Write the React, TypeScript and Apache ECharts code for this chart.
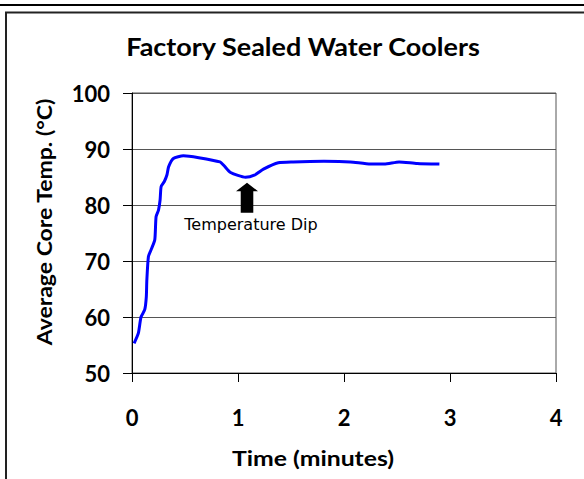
import React, { useEffect, useRef } from "react";
import * as echarts from "echarts";

const TITLE = "Factory Sealed Water Coolers";
const X_NAME = "Time (minutes)";
const Y_NAME = "Average Core Temp. (°C)";

const timeMin = [0.02, 0.06, 0.085, 0.12, 0.135, 0.14, 0.155, 0.18, 0.215, 0.227, 0.25, 0.265, 0.275, 0.305, 0.33, 0.345, 0.39, 0.485, 0.63, 0.83, 0.865, 0.93, 1.07, 1.16, 1.24, 1.38, 1.52, 1.81, 2.06, 2.25, 2.38, 2.52, 2.69, 2.9];
const coreTemp = [55.3, 57.1, 60.0, 61.3, 63.6, 66.6, 70.8, 72.0, 73.8, 77.9, 79.1, 80.9, 83.3, 84.2, 85.4, 86.8, 88.3, 88.8, 88.45, 87.7, 87.1, 85.8, 84.95, 85.4, 86.4, 87.55, 87.7, 87.8, 87.7, 87.3, 87.3, 87.7, 87.4, 87.3];

// annotation: arrow position and label position (data coords)
const arrowAt = [1.085, 81.3];
const dipLabelAt = [1.122, 76.5];
const DIP_TEXT = "Temperature Dip";

export default function App() {
  const ref = useRef<HTMLDivElement>(null);
  useEffect(() => {
    if (!ref.current) return;
    const chart = echarts.init(ref.current, null, { renderer: "svg" });
    const data = timeMin.map((t, i) => [t, coreTemp[i]]);
    chart.setOption({
      animation: false,
      backgroundColor: "#fff",
      grid: {
        left: 132,
        right: 28,
        top: 93,
        bottom: 106,
        show: true,
        borderColor: "#555",
        borderWidth: 1,
        backgroundColor: "transparent",
      },
      xAxis: {
        type: "value",
        min: 0,
        max: 4,
        interval: 1,
        axisLine: { show: true, onZero: false, lineStyle: { color: "#000", width: 1 } },
        axisTick: { show: true, length: 9, lineStyle: { color: "#000" } },
        splitLine: { show: false },
        axisLabel: {
          margin: 33,
          color: "#000",
          fontFamily: "Lato",
          fontWeight: "bold",
          fontSize: 22,
        },
      },
      yAxis: {
        type: "value",
        min: 50,
        max: 100,
        interval: 10,
        axisLine: { show: true, onZero: false, lineStyle: { color: "#000", width: 1 } },
        axisTick: { show: true, length: 9, lineStyle: { color: "#000" } },
        splitLine: { show: true, lineStyle: { color: "#555", width: 1 } },
        axisLabel: {
          margin: 22,
          color: "#000",
          fontFamily: "Lato",
          fontWeight: "bold",
          fontSize: 22,
        },
      },
      graphic: [
        {
          type: "line",
          shape: { x1: 0, y1: 5, x2: 584, y2: 5 },
          style: { stroke: "#000", lineWidth: 2 },
          silent: true,
        },
        {
          type: "rect",
          shape: { x: 6, y: 12.5, width: 620, height: 520 },
          style: { fill: "none", stroke: "#222", lineWidth: 2 },
          silent: true,
        },
        {
          type: "text",
          x: 303,
          y: 46,
          scaleX: 1.08,
          style: {
            text: TITLE,
            fill: "#000",
            font: "bold 25px Lato",
            align: "center",
            verticalAlign: "middle",
          },
        },
        {
          type: "text",
          x: 313,
          y: 458,
          scaleX: 1.18,
          style: {
            text: X_NAME,
            fill: "#000",
            font: "bold 21px Lato",
            align: "center",
            verticalAlign: "middle",
          },
        },
        {
          type: "text",
          x: 45,
          y: 222,
          rotation: Math.PI / 2,
          scaleX: 1.15,
          style: {
            text: Y_NAME,
            fill: "#000",
            font: "bold 20px Lato",
            align: "center",
            verticalAlign: "middle",
          },
        },
      ],
      series: [
        {
          type: "line",
          data,
          showSymbol: false,
          smooth: 0.2,
          lineStyle: { color: "#0000ff", width: 3 },
          itemStyle: { color: "#0000ff" },
          markPoint: {
            silent: true,
            data: [
              {
                coord: arrowAt,
                symbol: "path://M10.5,0 L21,8.5 L16.5,8.5 L16.5,30 L4.5,30 L4.5,8.5 L0,8.5 Z",
                symbolSize: [22, 30],
                symbolKeepAspect: false,
                itemStyle: { color: "#000" },
                label: { show: false },
              },
              {
                coord: dipLabelAt,
                symbol: "rect",
                symbolSize: 0,
                label: {
                  show: true,
                  position: "inside",
                  formatter: DIP_TEXT,
                  color: "#000",
                  fontFamily: "DejaVu Sans",
                  fontSize: 16,
                },
              },
            ],
          },
        },
      ],
    });
    return () => chart.dispose();
  }, []);
  return (
    <div
      ref={ref}
      style={{ position: "absolute", left: 0, top: 0, width: 584, height: 479 }}
    />
  );
}
